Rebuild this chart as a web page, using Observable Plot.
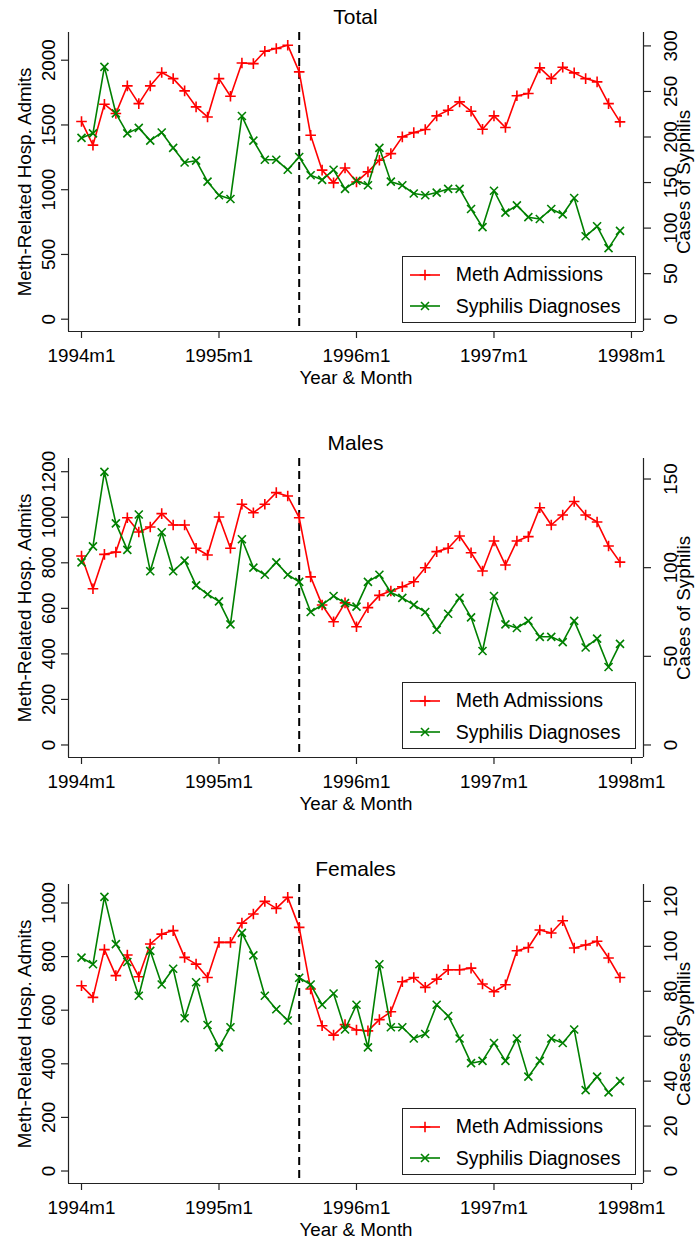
<!DOCTYPE html>
<html><head><meta charset="utf-8">
<script src="https://cdn.jsdelivr.net/npm/d3@7"></script>
<script src="https://cdn.jsdelivr.net/npm/@observablehq/plot@0.6"></script>
<style>
body{margin:0;background:#fff;}
#chart{position:relative;width:695px;height:1238px;overflow:hidden;font-family:"Liberation Sans",Arial,sans-serif;color:#000;background:#fff;}
.panel{position:absolute;left:0;width:695px;}
.panel svg{display:block;}
.title{position:absolute;left:0;width:711px;top:6px;text-align:center;font-size:21px;line-height:21px;}
.legend{position:absolute;left:402px;top:256px;width:234px;height:67px;border:1px solid #222;box-sizing:border-box;padding:1.75px 0 0 7px;font-size:19.5px;background:#fff;}
.legend .row{display:flex;align-items:center;height:31.5px;white-space:nowrap;}
.legend svg{margin-right:15.7px;flex:none;}
</style>
</head><body>
<div id="chart"></div>
<script>
// ---- data ----
const xTickValues = [0, 12, 24, 36, 48];
const xTickLabels = ["1994m1", "1995m1", "1996m1", "1997m1", "1998m1"];
const policyMonth = 19; // 1995m8, dashed reference line
const seriesNames = ["Meth Admissions", "Syphilis Diagnoses"];
const panelTitles = ["Total", "Males", "Females"];

const totalMeth = [1527,1344,1660,1588,1802,1665,1802,1905,1858,1763,1640,1562,1858,1722,1979,1974,2069,2090,2116,1910,1421,1151,1053,1168,1060,1138,1228,1279,1408,1441,1465,1570,1614,1678,1606,1467,1570,1480,1725,1743,1941,1858,1946,1902,1858,1833,1665,1524];
const totalSyph = [199,204,277,226,204,210,196,205,188,172,174,151,136,132,223,196,175,175,164,178,158,153,164,143,152,147,188,151,147,138,136,139,143,143,121,101,141,117,125,112,110,121,115,133,91,102,78,97];
const malesMeth = [830,686,837,847,998,935,957,1016,966,966,864,834,1001,864,1057,1020,1057,1108,1093,998,738,615,541,624,519,603,657,676,695,717,778,849,864,918,844,764,896,790,896,915,1042,966,1010,1069,1010,979,874,803];
const malesSyph = [103,112,154,125,110,130,98,120,98,104,90,85,81,68,116,100,96,103,96,92,75,79,84,80,78,92,96,86,83,79,75,65,74,83,72,53,84,68,66,70,61,61,58,70,55,60,44,57];
const femalesMeth = [691,648,826,729,806,725,847,884,897,797,772,722,853,853,925,959,1006,980,1021,909,679,542,507,546,526,523,565,594,706,722,685,716,751,751,757,698,669,695,822,834,899,888,934,832,843,857,795,722];
const femalesSyph = [95,92,122,101,93,78,98,83,90,68,84,65,55,64,106,96,78,72,67,86,83,74,79,63,74,55,92,64,64,59,61,74,69,59,48,49,57,49,59,42,49,59,57,63,36,42,35,40];

const totalLeftTicks = [0, 500, 1000, 1500, 2000];
const totalRightTicks = [0, 50, 100, 150, 200, 250, 300];
const malesLeftTicks = [0, 200, 400, 600, 800, 1000, 1200];
const malesRightTicks = [0, 50, 100, 150];
const femalesLeftTicks = [0, 200, 400, 600, 800, 1000];
const femalesRightTicks = [0, 20, 40, 60, 80, 100, 120];

// ---- styling / layout ----
const red = "#ff0000", green = "#008000", axisColor = "#222";
const xDomain = [-1.135, 49.05];
const fontFamily = "'Liberation Sans', Arial, sans-serif";

const plusSymbol = {draw(ctx, size) {const r = Math.sqrt(size / Math.PI); ctx.moveTo(-r, 0); ctx.lineTo(r, 0); ctx.moveTo(0, -r); ctx.lineTo(0, r);}};
const timesSymbol = {draw(ctx, size) {const r = Math.sqrt(size / Math.PI); ctx.moveTo(-r, -r); ctx.lineTo(r, r); ctx.moveTo(-r, r); ctx.lineTo(r, -r);}};

function makePlot({meth, syph, leftDomain, leftTicks, rightTicks, k, height}) {
  const data = meth.map((v, i) => ({m: i, meth: v, syph: syph[i] * k}));
  const rightScaled = rightTicks.map(t => t * k);
  return Plot.plot({
    width: 695,
    height,
    marginLeft: 68, marginRight: 52, marginTop: 32, marginBottom: height - 331,
    style: {fontFamily, fontSize: "18.8px", color: "#000", background: "#fff", overflow: "visible"},
    x: {type: "linear", domain: xDomain},
    y: {type: "linear", domain: leftDomain},
    marks: [
      Plot.ruleX([xDomain[0]], {stroke: axisColor, strokeWidth: 1.2}),
      Plot.ruleX([xDomain[1]], {stroke: axisColor, strokeWidth: 1.2}),
      Plot.ruleY([leftDomain[0]], {stroke: axisColor, strokeWidth: 1.2}),
      Plot.axisX(xTickValues, {anchor: "bottom", tickSize: 7, tickPadding: 10, stroke: axisColor, strokeWidth: 1.2,
        tickFormat: d => xTickLabels[xTickValues.indexOf(d)],
        label: "Year & Month", labelAnchor: "center", labelOffset: 52, labelArrow: "none"}),
      Plot.axisY(leftTicks, {anchor: "left", tickSize: 7, tickPadding: 7, tickRotate: -90, stroke: axisColor, strokeWidth: 1.2,
        tickFormat: d => String(d),
        label: "Meth-Related Hosp. Admits", labelAnchor: "center", labelOffset: 51, labelArrow: "none"}),
      Plot.axisY(rightScaled, {anchor: "right", tickSize: 7, tickPadding: 13, tickRotate: -90, lineAnchor: "top", stroke: axisColor, strokeWidth: 1.2,
        tickFormat: d => String(rightTicks[rightScaled.indexOf(d)]),
        label: "Cases of Syphilis", labelAnchor: "center", labelOffset: 46, labelArrow: "none"}),
      Plot.ruleX([policyMonth], {stroke: "#000", strokeWidth: 2, strokeDasharray: "8,5"}),
      Plot.line(data, {x: "m", y: "meth", stroke: red, strokeWidth: 1.6}),
      Plot.dot(data, {x: "m", y: "meth", symbol: plusSymbol, r: 5.3, stroke: red, fill: "none", strokeWidth: 1.6}),
      Plot.line(data, {x: "m", y: "syph", stroke: green, strokeWidth: 1.6}),
      Plot.dot(data, {x: "m", y: "syph", symbol: timesSymbol, r: 4, stroke: green, fill: "none", strokeWidth: 1.6})
    ]
  });
}

function legendHTML() {
  return `<div class="legend">
    <div class="row"><svg width="30" height="12"><line x1="0" y1="6" x2="30" y2="6" stroke="${red}" stroke-width="1.6"/><path d="M9.7,6H20.3M15,0.7V11.3" stroke="${red}" stroke-width="1.6" fill="none"/></svg><span>${seriesNames[0]}</span></div>
    <div class="row"><svg width="30" height="12"><line x1="0" y1="6" x2="30" y2="6" stroke="${green}" stroke-width="1.6"/><path d="M11,2L19,10M11,10L19,2" stroke="${green}" stroke-width="1.6" fill="none"/></svg><span>${seriesNames[1]}</span></div>
  </div>`;
}

const panels = [
  {title: panelTitles[0], top: 0, height: 426, meth: totalMeth, syph: totalSyph, leftDomain: [-95, 2214], leftTicks: totalLeftTicks, rightTicks: totalRightTicks, k: 7.035},
  {title: panelTitles[1], top: 426, height: 426, meth: malesMeth, syph: malesSyph, leftDomain: [-55, 1258], leftTicks: malesLeftTicks, rightTicks: malesRightTicks, k: 7.786},
  {title: panelTitles[2], top: 852, height: 386, meth: femalesMeth, syph: femalesSyph, leftDomain: [-46.6, 1069], leftTicks: femalesLeftTicks, rightTicks: femalesRightTicks, k: 8.383}
];

const chart = document.getElementById("chart");
for (const p of panels) {
  const div = document.createElement("div");
  div.className = "panel";
  div.style.top = p.top + "px";
  div.style.height = p.height + "px";
  div.appendChild(makePlot(p));
  const t = document.createElement("div");
  t.className = "title";
  t.textContent = p.title;
  div.appendChild(t);
  div.insertAdjacentHTML("beforeend", legendHTML());
  chart.appendChild(div);
}
</script>
</body></html>
